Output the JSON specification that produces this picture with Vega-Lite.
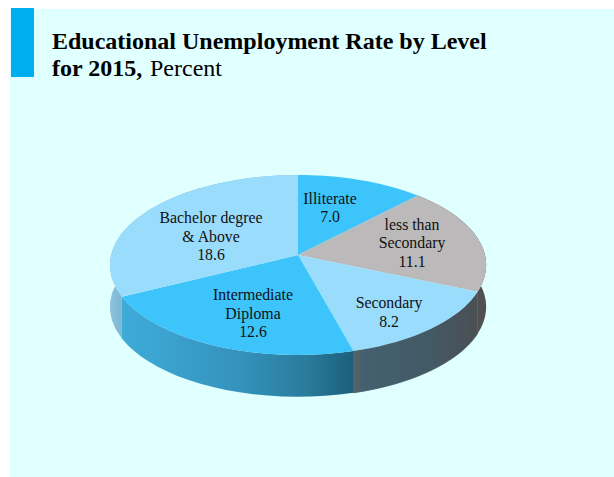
{
  "$schema": "https://vega.github.io/schema/vega-lite/v6.json",
  "width": 614,
  "height": 477,
  "autosize": {"type": "fit", "contains": "padding"},
  "padding": 0,
  "background": "#ffffff",
  "config": {"view": {"stroke": null}},
  "datasets": {
    "levels": [
      {"rank": 1, "level": "Illiterate", "label": "Illiterate", "value": 7.0, "steps": [0,1,2,3,4,5,6,7,8,9,10,11,12,13,14,15,16,17,18,19,20,21,22,23,24,25,26,27,28,29,30,31,32,33,34,35,36,37,38,39,40,41]},
      {"rank": 2, "level": "less than Secondary", "label": "less than\nSecondary", "value": 11.1, "steps": [0,1,2,3,4,5,6,7,8,9,10,11,12,13,14,15,16,17,18,19,20,21,22,23,24,25,26,27,28,29,30,31,32,33,34,35,36,37,38,39,40,41]},
      {"rank": 3, "level": "Secondary", "label": "Secondary", "value": 8.2, "steps": [0,1,2,3,4,5,6,7,8,9,10,11,12,13,14,15,16,17,18,19,20,21,22,23,24,25,26,27,28,29,30,31,32,33,34,35,36,37,38,39,40,41]},
      {"rank": 4, "level": "Intermediate Diploma", "label": "Intermediate\nDiploma", "value": 12.6, "steps": [0,1,2,3,4,5,6,7,8,9,10,11,12,13,14,15,16,17,18,19,20,21,22,23,24,25,26,27,28,29,30,31,32,33,34,35,36,37,38,39,40,41]},
      {"rank": 5, "level": "Bachelor degree & Above", "label": "Bachelor degree\n& Above", "value": 18.6, "steps": [0,1,2,3,4,5,6,7,8,9,10,11,12,13,14,15,16,17,18,19,20,21,22,23,24,25,26,27,28,29,30,31,32,33,34,35,36,37,38,39,40,41]}
    ],
    "one": [{"part": "frame"}]
  },
  "layer": [
    {
      "data": {"name": "one"},
      "mark": {"type": "rect", "fill": "#e0ffff"},
      "encoding": {
        "x": {"datum": -1.5401, "type": "quantitative", "scale": {"domain": [-1.5936, 1.6898], "nice": false, "zero": false}, "axis": null},
        "x2": {"datum": 1.6898},
        "y": {"datum": -2.767, "type": "quantitative", "scale": {"domain": [-2.868, 2.497], "reverse": true, "nice": false, "zero": false}, "axis": null},
        "y2": {"datum": 2.497}
      }
    },
    {
      "data": {"name": "one"},
      "mark": {"type": "rect", "fill": "#00aeef"},
      "encoding": {
        "x": {"datum": -1.5348, "type": "quantitative", "axis": null},
        "x2": {"datum": -1.4118},
        "y": {"datum": -2.7784, "type": "quantitative", "axis": null},
        "y2": {"datum": -2.0022}
      }
    },
    {
      "data": {"name": "levels"},
      "transform": [
        {"joinaggregate": [{"op": "sum", "field": "value", "as": "total"}]},
        {"window": [{"op": "sum", "field": "value", "as": "cumEnd"}], "sort": [{"field": "rank", "order": "ascending"}]},
        {"flatten": ["steps"], "as": ["step"]},
        {"calculate": "datum.step <= 20 ? datum.step / 20 : (41 - datum.step) / 20", "as": "u"},
        {"calculate": "2 * PI * (datum.cumEnd - datum.value + datum.u * datum.value) / datum.total", "as": "angle"},
        {"calculate": "sin(datum.angle) / (1 + cos(datum.angle) / 9)", "as": "rimX"},
        {"calculate": "-cos(datum.angle) / (1 + cos(datum.angle) / 9)", "as": "rimY"},
        {"calculate": "datum.rimY + (datum.step > 20 ? 0.47 : 0)", "as": "wallY"},
        {"calculate": "datum.step == 21 ? 0 : datum.rimX", "as": "faceX"},
        {"calculate": "datum.step == 21 ? 0 : datum.rimY", "as": "faceY"},
        {"calculate": "{'Illiterate': [0.1711, -0.63], 'less than Secondary': [0.6096, -0.3375], 'Secondary': [0.4866, 0.54], 'Intermediate Diploma': [-0.2406, 0.45], 'Bachelor degree & Above': [-0.4652, -0.416]}[datum.level]", "as": "anchor"},
        {"calculate": "datum.anchor[0]", "as": "labelX"},
        {"calculate": "datum.anchor[1]", "as": "labelY"},
        {"calculate": "datum.label + '\\n' + format(datum.value, '.1f')", "as": "caption"}
      ],
      "layer": [
        {
          "transform": [{"filter": "datum.level == 'less than Secondary'"}],
          "mark": {"type": "line", "interpolate": "linear-closed", "fill": "#505050", "strokeWidth": 0},
          "encoding": {
            "x": {"field": "rimX", "type": "quantitative", "axis": null},
            "y": {"field": "wallY", "type": "quantitative", "axis": null},
            "order": {"field": "step", "type": "quantitative"}
          }
        },
        {
          "transform": [{"filter": "datum.level == 'Secondary'"}],
          "mark": {
            "type": "line", "interpolate": "linear-closed", "stroke": "#465a64", "strokeWidth": 0.8,
            "fill": {"gradient": "linear", "x1": 0, "y1": 0, "x2": 1, "y2": 0, "stops": [
              {"offset": 0, "color": "#5c6266"},
              {"offset": 0.08, "color": "#44606e"},
              {"offset": 0.6, "color": "#435a66"},
              {"offset": 1, "color": "#4a4f52"}
            ]}
          },
          "encoding": {
            "x": {"field": "rimX", "type": "quantitative", "axis": null},
            "y": {"field": "wallY", "type": "quantitative", "axis": null},
            "order": {"field": "step", "type": "quantitative"}
          }
        },
        {
          "transform": [{"filter": "datum.level == 'Intermediate Diploma'"}],
          "mark": {
            "type": "line", "interpolate": "linear-closed", "strokeWidth": 0,
            "fill": {"gradient": "linear", "x1": 0, "y1": 0, "x2": 1, "y2": 0, "stops": [
              {"offset": 0, "color": "#3fabd9"},
              {"offset": 0.5, "color": "#3493bd"},
              {"offset": 0.8, "color": "#2a7b9c"},
              {"offset": 1, "color": "#1c5f7c"}
            ]}
          },
          "encoding": {
            "x": {"field": "rimX", "type": "quantitative", "axis": null},
            "y": {"field": "wallY", "type": "quantitative", "axis": null},
            "order": {"field": "step", "type": "quantitative"}
          }
        },
        {
          "transform": [{"filter": "datum.level == 'Bachelor degree & Above'"}],
          "mark": {
            "type": "line", "interpolate": "linear-closed", "strokeWidth": 0,
            "fill": {"gradient": "linear", "x1": 0, "y1": 0, "x2": 1, "y2": 0, "stops": [
              {"offset": 0, "color": "#8cc3de"},
              {"offset": 0.06, "color": "#7fb6d2"},
              {"offset": 1, "color": "#7fb6d2"}
            ]}
          },
          "encoding": {
            "x": {"field": "rimX", "type": "quantitative", "axis": null},
            "y": {"field": "wallY", "type": "quantitative", "axis": null},
            "order": {"field": "step", "type": "quantitative"}
          }
        },
        {
          "transform": [{"filter": "datum.step <= 21"}],
          "mark": {"type": "line", "interpolate": "linear-closed", "strokeWidth": 0},
          "encoding": {
            "x": {"field": "faceX", "type": "quantitative", "axis": null},
            "y": {"field": "faceY", "type": "quantitative", "axis": null},
            "order": {"field": "step", "type": "quantitative"},
            "fill": {
              "field": "level",
              "type": "nominal",
              "legend": null,
              "scale": {
                "domain": ["Illiterate", "less than Secondary", "Secondary", "Intermediate Diploma", "Bachelor degree & Above"],
                "range": ["#3cc4fb", "#bbb9b9", "#9adcfb", "#3cc4fb", "#9adcfb"]
              }
            }
          }
        },
        {
          "transform": [{"filter": "datum.step == 0"}],
          "mark": {"type": "text", "font": "Liberation Serif", "fontSize": 15.8, "lineBreak": "\n", "lineHeight": 18.5, "align": "center", "baseline": "middle", "color": "#111111"},
          "encoding": {
            "x": {"field": "labelX", "type": "quantitative", "axis": null},
            "y": {"field": "labelY", "type": "quantitative", "axis": null},
            "text": {"field": "caption", "type": "nominal"}
          }
        }
      ]
    },
    {
      "data": {"name": "one"},
      "mark": {"type": "text", "font": "Liberation Serif", "fontSize": 24, "fontWeight": "bold", "align": "left", "baseline": "alphabetic", "color": "#000000"},
      "encoding": {
        "x": {"datum": -1.3155, "type": "quantitative", "axis": null},
        "y": {"datum": -2.3172, "type": "quantitative", "axis": null},
        "text": {"value": "Educational Unemployment Rate by Level"}
      }
    },
    {
      "data": {"name": "one"},
      "mark": {"type": "text", "font": "Liberation Serif", "fontSize": 24, "fontWeight": "bold", "align": "left", "baseline": "alphabetic", "color": "#000000"},
      "encoding": {
        "x": {"datum": -1.3155, "type": "quantitative", "axis": null},
        "y": {"datum": -2.0135, "type": "quantitative", "axis": null},
        "text": {"value": "for 2015,"}
      }
    },
    {
      "data": {"name": "one"},
      "mark": {"type": "text", "font": "Liberation Serif", "fontSize": 24, "align": "left", "baseline": "alphabetic", "color": "#000000"},
      "encoding": {
        "x": {"datum": -0.7914, "type": "quantitative", "axis": null},
        "y": {"datum": -2.0135, "type": "quantitative", "axis": null},
        "text": {"value": "Percent"}
      }
    }
  ]
}
